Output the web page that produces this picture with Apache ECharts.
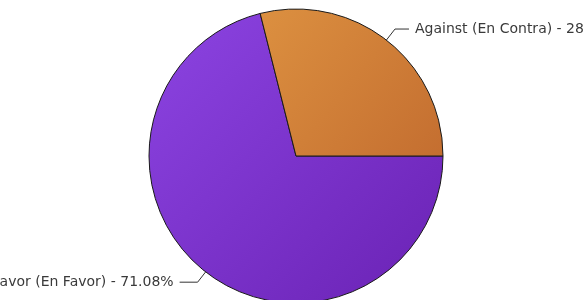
<!DOCTYPE html>
<html>
<head>
<meta charset="utf-8">
<script src="https://cdn.jsdelivr.net/npm/echarts@6/dist/echarts.min.js"></script>
<style>
  html, body { margin: 0; padding: 0; background: #fff; }
  #chart { width: 583px; height: 300px; }
</style>
</head>
<body>
<div id="chart"></div>
<script>
const categories = ['In Favor (En Favor)', 'Against (En Contra)']
const values = [71.08, 28.92]
const sliceColors = [
  ['#8c44e2', '#6a22b4'],
  ['#dc9040', '#c46e30'],
]
// leader lines differ a little between the two labels
const lineLengths = [13, 14]
const legLengths = [18, 14]

const chart = echarts.init(document.getElementById('chart'), undefined, { renderer: 'canvas' })

const data = categories.map((name, i) => ({
  name,
  value: values[i],
  itemStyle: {
    color: new echarts.graphic.LinearGradient(0, 0, 1, 1, [
      { offset: 0, color: sliceColors[i][0] },
      { offset: 1, color: sliceColors[i][1] },
    ]),
  },
  labelLine: { length: lineLengths[i], length2: legLengths[i] },
}))

chart.setOption({
  backgroundColor: '#ffffff',
  animation: false,
  series: [
    {
      type: 'pie',
      center: [296, 156],
      radius: 147,
      startAngle: 0,
      clockwise: true,
      avoidLabelOverlap: false,
      data,
      itemStyle: { borderColor: '#1a1a1a', borderWidth: 1 },
      label: {
        show: true,
        position: 'outside',
        alignTo: 'none',
        overflow: 'none',
        distanceToLabelLine: 6,
        formatter: '{b} - {d}%',
        fontFamily: 'DejaVu Sans',
        fontSize: 14,
        color: '#3a3a3a',
      },
      labelLine: {
        show: true,
        lineStyle: { color: '#333', width: 1 },
      },
      emphasis: { disabled: true },
    },
  ],
})
</script>
</body>
</html>
